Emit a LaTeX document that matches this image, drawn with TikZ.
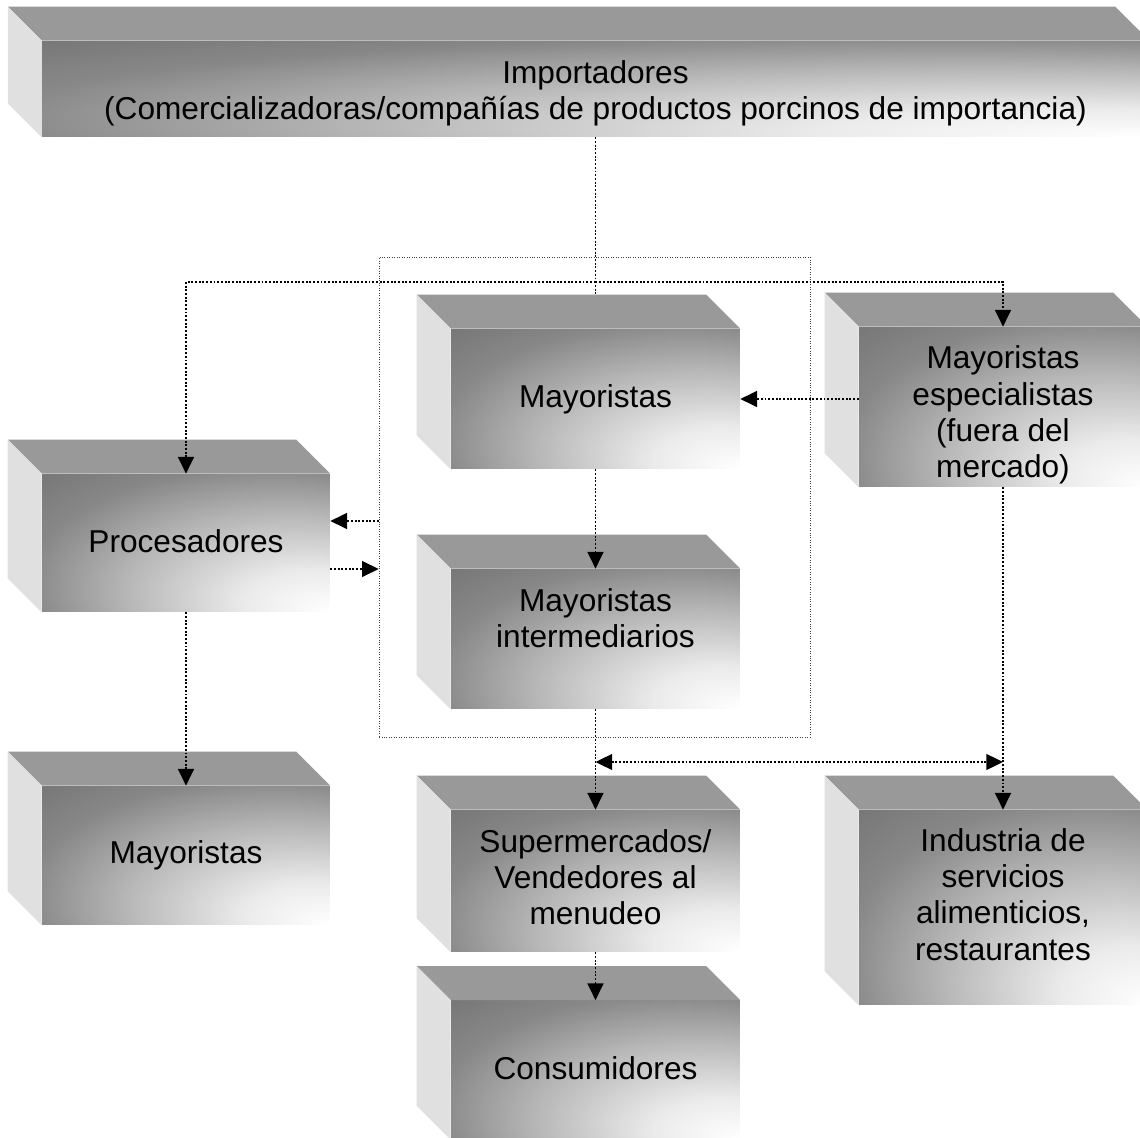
\documentclass[tikz,border=0pt]{standalone}
\usepackage{fontspec}
\setmainfont{Liberation Sans}
\usetikzlibrary{arrows.meta}
\pgfdeclareradialshading{frente}{\pgfpoint{25bp}{-25bp}}{%
  color(0bp)=(white); color(12bp)=(black!8); color(28bp)=(black!28);
  color(42bp)=(black!47); color(52bp)=(black!53); color(100bp)=(black!53)}

\begin{document}
\begin{tikzpicture}[x = 0.02cm, y = -0.02cm,
    caja/.style = {shape = rectangle, shade, shading = frente, inner sep = 0pt},
    texto/.style = {inner sep = 0pt, align = center, font = \fontsize{18}{20.6}\selectfont},
    tapa/.style = {fill = black!40},
    lado/.style = {fill = black!12},
    punta/.tip = {Triangle[length = 9.5pt, width = 9pt]},
    flecha/.style = {densely dotted, line width = 1.1pt, -punta},
    linea/.style = {densely dotted, line width = 1.1pt},
    marco/.style = {draw = black!75, densely dotted, line width = 0.4pt, inner sep = 0pt}]
    \useasboundingbox (0,0) rectangle (1140,1138);
    \node[caja, minimum width = 22.14cm, minimum height = 1.92cm] (imp) at (595.5,89) {};
    \node[caja, minimum width = 5.78cm, minimum height = 2.8cm] (may) at (595.5,399) {};
    \node[caja, minimum width = 5.78cm, minimum height = 2.8cm] (inter) at (595.5,639) {};
    \node[caja, minimum width = 5.76cm, minimum height = 3.2cm] (esp) at (1003,407) {};
    \node[caja, minimum width = 5.76cm, minimum height = 2.76cm] (proc) at (186,543) {};
    \node[caja, minimum width = 5.76cm, minimum height = 2.78cm] (may2) at (186,855.5) {};
    \node[caja, minimum width = 5.78cm, minimum height = 2.84cm] (super) at (595.5,881) {};
    \node[caja, minimum width = 5.78cm, minimum height = 2.78cm] (cons) at (595.5,1070) {};
    \node[caja, minimum width = 5.76cm, minimum height = 3.9cm] (ind) at (1003,907.5) {};
    \foreach \n in {imp, may, inter, esp, proc, may2, super, cons, ind}{
        \fill[tapa] (\n.north west) -- ++(-34,-34) -- ([shift = {(-34,-34)}]\n.north east) -- (\n.north east) -- cycle;
        \fill[lado] (\n.north west) -- ++(-34,-34) -- ([shift = {(-34,-34)}]\n.south west) -- (\n.south west) -- cycle;
    }
    \node[texto] (imp-t) at ([shift = {(0,4)}]imp.center)
        {Importadores\\(Comercializadoras/compañías de productos porcinos de importancia)};
    \node[texto] (may-t) at (may.center) {Mayoristas};
    \node[texto] (inter-t) at ([shift = {(0,-21)}]inter.center) {Mayoristas\\intermediarios};
    \node[texto] (esp-t) at ([shift = {(0,8)}]esp.center) {Mayoristas\\especialistas\\(fuera del\\mercado)};
    \node[texto] (proc-t) at ([shift = {(0,-2)}]proc.center) {Procesadores};
    \node[texto] (may2-t) at (may2.center) {Mayoristas};
    \node[texto] (super-t) at ([shift = {(0,-4)}]super.center) {Supermercados/\\Vendedores al\\menudeo};
    \node[texto] (cons-t) at ([shift = {(0,-2)}]cons.center) {Consumidores};
    \node[texto] (ind-t) at ([shift = {(0,-13)}]ind.center) {Industria de\\servicios\\alimenticios,\\restaurantes};
    \node[marco, minimum width = 8.62cm, minimum height = 9.6cm] (grupo) at (594.5,497) {};
    \coordinate (reparto) at (595.5,282);
    \coordinate (cruce) at (595.5,762);
    \coordinate (pin) at ([yshift = 0.44cm]proc.east);
    \coordinate (pout) at ([yshift = -0.52cm]proc.east);
    \draw[linea] (imp.south) -- ([yshift = 0.68cm]may.north);
    \draw[flecha] (reparto) -| (proc.north);
    \draw[flecha] (reparto) -| (esp.north);
    \draw[flecha] (esp.west |- may.east) -- (may.east);
    \draw[flecha] (may.south) -- (inter.north);
    \draw[flecha] (pin -| grupo.west) -- (pin);
    \draw[flecha] (pout) -- (pout -| grupo.west);
    \draw[flecha] (proc.south) -- (may2.north);
    \draw[flecha] (inter.south) -- (super.north);
    \draw[linea, punta-punta] (cruce) -- (cruce -| ind.north);
    \draw[flecha] (esp.south) -- (ind.north);
    \draw[flecha] (super.south) -- (cons.north);
\end{tikzpicture}
\end{document}
